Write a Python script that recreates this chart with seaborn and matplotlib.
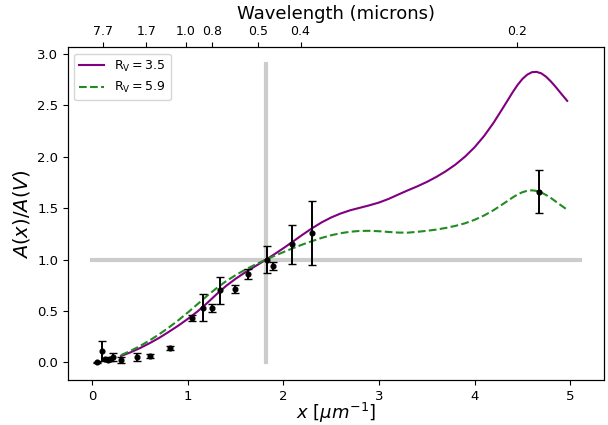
import matplotlib
matplotlib.use("Agg")
import matplotlib.pyplot as plt
import seaborn as sns
import pandas as pd

# ---- data ----
x_model = [0.3, 0.4, 0.5, 0.6, 0.7, 0.8, 0.9, 1.0, 1.1, 1.2, 1.3, 1.4, 1.5, 1.6,
           1.7, 1.8, 1.9, 2.0, 2.1, 2.2, 2.3, 2.4, 2.5, 2.6, 2.7, 2.8, 2.9, 3.0,
           3.1, 3.2, 3.3, 3.4, 3.5, 3.6, 3.7, 3.8, 3.9, 4.0, 4.1, 4.2, 4.3, 4.4,
           4.45, 4.5, 4.55, 4.6, 4.65, 4.7, 4.75, 4.8, 4.85, 4.9, 4.97]
ext_rv35 = [0.061, 0.097, 0.139, 0.186, 0.238, 0.296, 0.357, 0.423, 0.494, 0.575,
            0.662, 0.743, 0.813, 0.875, 0.932, 0.988, 1.048, 1.110, 1.175, 1.241,
            1.304, 1.361, 1.409, 1.448, 1.479, 1.503, 1.527, 1.554, 1.589, 1.631,
            1.672, 1.711, 1.754, 1.803, 1.859, 1.923, 2.000, 2.091, 2.201, 2.331,
            2.478, 2.628, 2.697, 2.755, 2.797, 2.822, 2.825, 2.810, 2.777, 2.731,
            2.678, 2.621, 2.543]
ext_rv59 = [0.070, 0.111, 0.159, 0.213, 0.273, 0.338, 0.409, 0.485, 0.565, 0.646,
            0.721, 0.789, 0.848, 0.901, 0.948, 0.992, 1.033, 1.072, 1.110, 1.146,
            1.179, 1.210, 1.236, 1.256, 1.270, 1.278, 1.279, 1.275, 1.268, 1.262,
            1.261, 1.269, 1.279, 1.291, 1.307, 1.327, 1.352, 1.386, 1.428, 1.480,
            1.541, 1.604, 1.632, 1.654, 1.668, 1.673, 1.667, 1.651, 1.627, 1.598,
            1.564, 1.530, 1.484]

x_obs = [0.045, 0.097, 0.13, 0.16, 0.19, 0.22, 0.30, 0.467, 0.60, 0.813,
         1.04, 1.159, 1.257, 1.334, 1.494, 1.624, 1.826, 1.886, 2.085, 2.30, 4.675]
y_obs = [0.00, 0.11, 0.03, 0.02, 0.03, 0.05, 0.02, 0.054, 0.064, 0.142,
         0.428, 0.531, 0.525, 0.700, 0.710, 0.859, 1.00, 0.94, 1.148, 1.255, 1.66]
e_obs = [0.005, 0.10, 0.01, 0.01, 0.02, 0.04, 0.03, 0.04, 0.02, 0.02,
         0.03, 0.13, 0.04, 0.13, 0.04, 0.05, 0.13, 0.04, 0.19, 0.31, 0.21]

top_tick_pos = [0.111, 0.566, 0.977, 1.253, 1.735, 2.179, 4.442]
top_tick_labels = ["7.7", "1.7", "1.0", "0.8", "0.5", "0.4", "0.2"]

x_v = 1.82
series_labels = [r"$\mathrm{R_V = 3.5}$", r"$\mathrm{R_V = 5.9}$"]

# ---- plotting (matplotlib default look) ----
plt.rcParams["font.family"] = ["DejaVu Sans"]

fig = plt.figure(figsize=(6.08, 4.25), dpi=100)
ax = fig.add_axes([0.1118, 0.1059, 0.8816, 0.7828])

ax.plot([x_v, x_v], [0.0, 2.9], color="0.8", lw=3, zorder=1)
ax.plot([0.0, 5.1], [1.0, 1.0], color="0.8", lw=3, zorder=1)

df = pd.DataFrame({"x": x_model, "rv35": ext_rv35, "rv59": ext_rv59})
sns.lineplot(data=df, x="x", y="rv35", color="purple", lw=1.5,
             label=series_labels[0], ax=ax, zorder=3)
sns.lineplot(data=df, x="x", y="rv59", color="forestgreen", lw=1.5,
             linestyle="--", label=series_labels[1], ax=ax, zorder=3)

ax.errorbar(x_obs, y_obs, yerr=e_obs, fmt="o", color="black", ms=3.4,
            capsize=3, elinewidth=1.4, capthick=1, zorder=4)

ax.set_xlim(-0.255, 5.355)
ax.set_ylim(-0.172, 3.064)
ax.set_xticks([0, 1, 2, 3, 4, 5])
ax.set_yticks([0.0, 0.5, 1.0, 1.5, 2.0, 2.5, 3.0])
ax.set_yticklabels(["0.0", "0.5", "1.0", "1.5", "2.0", "2.5", "3.0"])
ax.tick_params(labelsize=9.5)
ax.set_xlabel(r"$x$ [$\mu m^{-1}$]", fontsize=13)
ax.xaxis.set_label_coords(0.5, -0.062)
ax.set_ylabel(r"$A(x)/A(V)$", fontsize=14)

ax2 = ax.twiny()
ax2.set_xlim(ax.get_xlim())
ax2.set_xticks(top_tick_pos)
ax2.set_xticklabels(top_tick_labels, fontsize=9)
ax2.set_xlabel("Wavelength (microns)", fontsize=13, labelpad=4)

ax.legend(loc="upper left", fontsize=9, frameon=True)

fig.savefig("out.png", dpi=100)
